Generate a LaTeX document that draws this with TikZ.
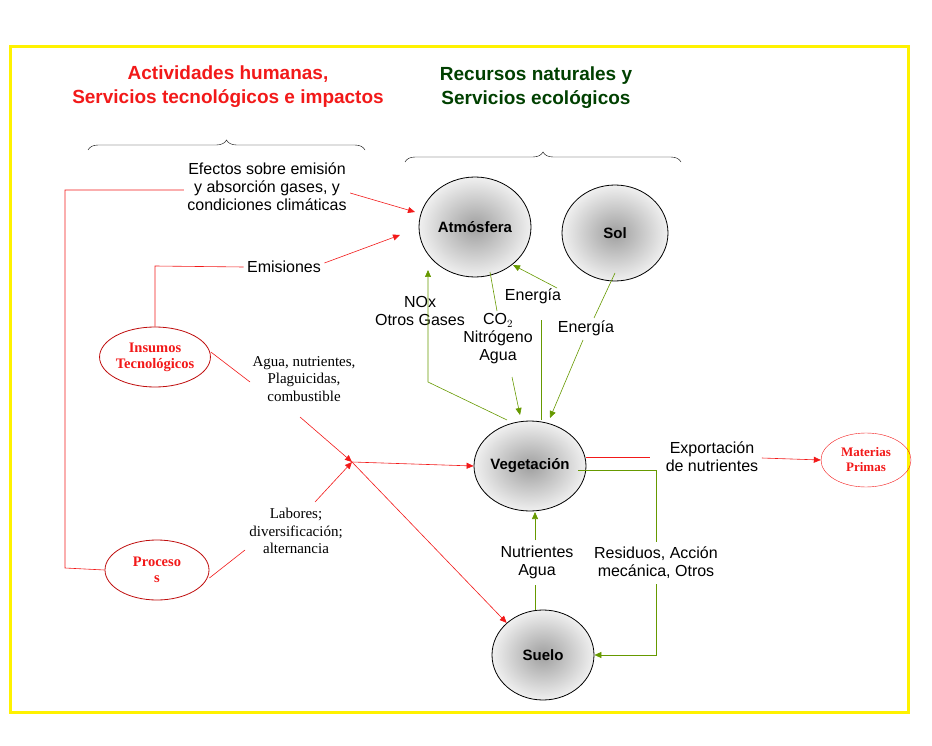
\documentclass[tikz,border=0pt]{standalone}
\usepackage{fontspec}
\setmainfont{Liberation Serif}
\setsansfont{Liberation Sans}
\usetikzlibrary{arrows.meta}
\usetikzlibrary{shapes.geometric}
\usetikzlibrary{decorations.pathreplacing}
\definecolor{verde}{rgb}{0.4,0.6,0.0}
\definecolor{rojo}{rgb}{0.95,0.1,0.1}
\definecolor{oscuro}{rgb}{0.75,0.05,0.05}
\definecolor{titulo}{rgb}{0.0,0.25,0.0}

\begin{document}
\begin{tikzpicture}[
            x = 1pt, y = -1pt,
            > = {Triangle[length=7pt,width=6pt]}, % arrow head style
            font = \sffamily\fontsize{16}{18}\selectfont,
            recurso/.style = {draw, thick, ellipse, inner sep = 0pt, shading = radial,
                inner color = gray!75, outer color = gray!12,
                font = \sffamily\bfseries\fontsize{15}{17}\selectfont},
            humano/.style = {draw = oscuro, thick, ellipse, inner sep = 0pt, text = rojo,
                font = \rmfamily\bfseries\fontsize{14.5}{16}\selectfont, align = center},
            etiqueta/.style = {align = center},
            nota/.style = {align = center, font = \rmfamily\fontsize{15}{17.5}\selectfont},
            roja/.style = {draw = rojo, line width = 0.6pt},
            verdel/.style = {draw = verde, line width = 0.6pt}
        ]

        \useasboundingbox (0,0) rectangle (932,746);
        \draw[yellow, line width = 3pt] (10,47) rectangle (908,712);

        % titles
        \node[text = rojo, font = \sffamily\bfseries\fontsize{19}{24}\selectfont, align = center]
            (TH) at (228,87) {Actividades humanas,\\Servicios tecnológicos e impactos};
        \node[text = titulo, font = \sffamily\bfseries\fontsize{19}{24}\selectfont, align = center]
            (TR) at (536,88) {Recursos naturales y\\Servicios ecológicos};
        \draw[decorate, decoration = {brace, amplitude = 10pt}] (88,150) -- (365,150);
        \draw[decorate, decoration = {brace, amplitude = 10pt}] (405,162) -- (681,162);

        % natural resources
        \node[recurso, minimum width = 112pt, minimum height = 100pt] (Atm) at (475,227) {Atmósfera};
        \node[recurso, minimum width = 106pt, minimum height = 96pt] (Sol) at (615,233) {Sol};
        \node[recurso, minimum width = 104pt, minimum height = 90pt] (Veg) at (530,466) {Vegetación};
        \node[recurso, minimum width = 102pt, minimum height = 90pt] (Sue) at (543,655) {Suelo};

        % human side
        \node[humano, minimum width = 104pt, minimum height = 60pt] (Ins) at (155,357) {Insumos\\Tecnológicos};
        \node[humano, minimum width = 104pt, minimum height = 60pt] (Pro) at (157,570) {Proceso\\s};
        \node[humano, draw = rojo, thin, font = \rmfamily\bfseries\fontsize{13}{15}\selectfont,
            minimum width = 90pt, minimum height = 54pt] (Mat) at (866,460) {Materias\\Primas};

        % labels
        \node[etiqueta] (Efe) at (267,187) {Efectos sobre emisión\\y absorción gases, y\\condiciones climáticas};
        \node[etiqueta] (Emi) at (284,267) {Emisiones};
        \node[nota] (Agu) at (304,379) {Agua, nutrientes,\\Plaguicidas,\\combustible};
        \node[nota] (Lab) at (296,531) {Labores;\\diversificación;\\alternancia};
        \node[etiqueta] (NOx) at (420,311) {NOx\\Otros Gases};
        \node[etiqueta] (CO2) at (498,339) {CO$_2$\\Nitrógeno\\Agua};
        \node[etiqueta] (En1) at (533,296) {Energía};
        \node[etiqueta] (En2) at (586,328) {Energía};
        \node[etiqueta] (Exp) at (712,457) {Exportación\\de nutrientes};
        \node[etiqueta] (Res) at (656,563) {Residuos, Acción\\mecánica, Otros};
        \node[etiqueta] (Nut) at (537,562) {Nutrientes\\Agua};
        \coordinate (J) at (352,462);

        % red connectors
        \draw[roja] (Pro.west) -- (65,568) -- (65,190) -- (Efe.west |- 65,190);
        \draw[roja] (Ins.north) -- (155,266) -- (Emi.west);
        \draw[roja, ->] (Efe.east) ++(0,6) -- (415,212);
        \draw[roja, ->] (Emi.east) ++(0,-4) -- (400,235);
        \draw[roja] (Ins.east) ++(0,-5) -- (250,382);
        \draw[roja, ->] (300,417) -- (J);
        \draw[roja] (Pro.east) ++(0,8) -- (245,550);
        \draw[roja, ->] (315,502) -- (J);
        \draw[roja, ->] (J) -- (Veg.west);
        \draw[roja, ->] (J) -- (Sue.north west);
        \draw[roja] (Veg.east) ++(0,-9) -- (650,457);
        \draw[roja, ->] (Exp.east) ++(0,1) -- (Mat.west);

        % green connectors
        \draw[verdel, ->] (507,420) -- (428,382) -- (428,270);
        \draw[verdel] (490,272) -- (497,311);
        \draw[verdel, ->] (512,377) -- (520,415);
        \draw[verdel] (541,420) -- (541,320);
        \draw[verdel, ->] (557,288) -- (513,265);
        \draw[verdel] (615,273) -- (594,318);
        \draw[verdel, ->] (583,340) -- (550,418);
        \draw[verdel] (578,470) -- (656,470) -- (656,542);
        \draw[verdel, ->] (656,584) -- (656,655) -- (Sue.east);
        \draw[verdel] (535,610) -- (535,585);
        \draw[verdel, ->] (535,540) -- (535,512);
\end{tikzpicture}
\end{document}
